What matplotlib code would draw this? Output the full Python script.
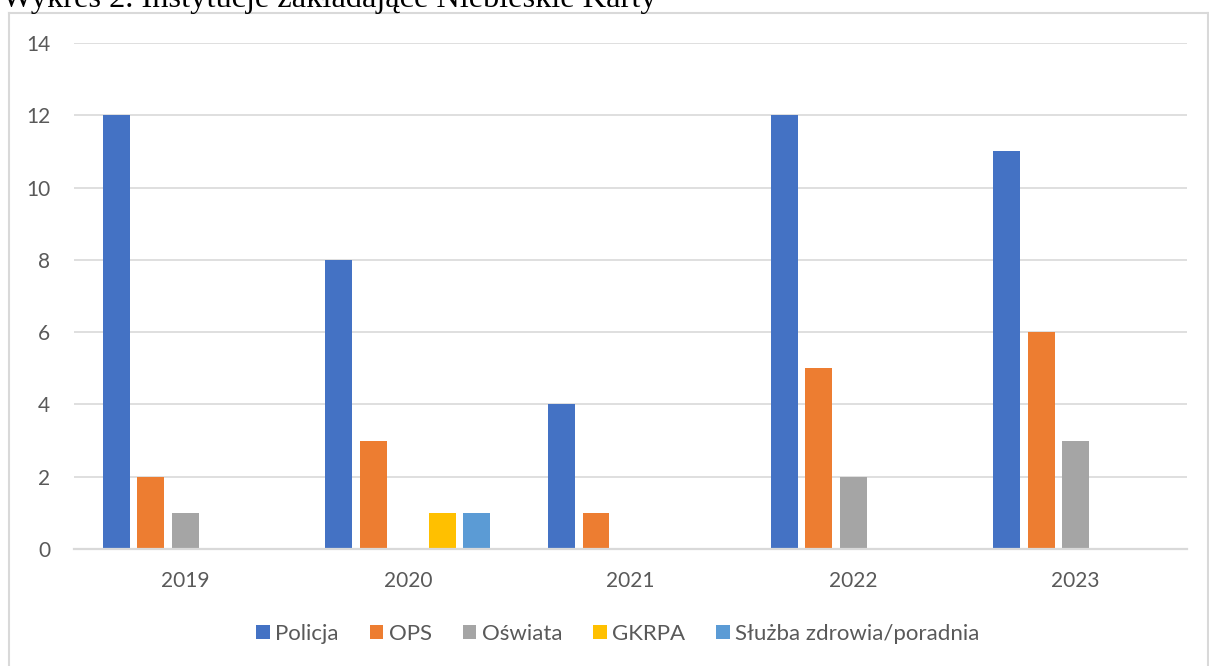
import numpy as np
import matplotlib.pyplot as plt
from matplotlib.lines import Line2D

years = ["2019", "2020", "2021", "2022", "2023"]
series = ["Policja", "OPS", "Oświata", "GKRPA", "Służba zdrowia/poradnia"]
policja = [12, 8, 4, 12, 11]
ops = [2, 3, 1, 5, 6]
oswiata = [1, 0, 0, 2, 3]
gkrpa = [0, 1, 0, 0, 0]
sluzba = [0, 1, 0, 0, 0]
colors = ["#4472c4", "#ed7d31", "#a5a5a5", "#ffc000", "#5b9bd5"]

values = [policja, ops, oswiata, gkrpa, sluzba]

W, H = 1209, 666
fig = plt.figure(figsize=(W / 100, H / 100), dpi=100)
plt.rcParams['font.family'] = ['Lato', 'DejaVu Sans']

ax = fig.add_axes([74 / W, 1 - 549 / H, (1187 - 74) / W, (549 - 43) / H])

x = np.arange(len(years))
pitch = 0.155
width = 0.121
for i, (name, vals) in enumerate(zip(series, values)):
    ax.bar(x + (i - 2) * pitch, vals, width, color=colors[i], label=name, zorder=3)

ax.set_xlim(-0.5, len(years) - 0.5)
ax.set_ylim(0, 14)
ax.set_yticks(range(0, 15, 2))
ax.set_xticks(x)
ax.set_xticklabels(years)
ax.grid(axis="y", color="#d9d9d9", linewidth=1.2, zorder=0)
for s in ["top", "right", "left"]:
    ax.spines[s].set_visible(False)
ax.spines["bottom"].set_color("#d9d9d9")
ax.spines["bottom"].set_linewidth(1.6)
ax.spines["bottom"].set_zorder(4)
ax.tick_params(length=0, labelsize=15, colors="#595959")
ax.tick_params(axis="x", pad=15.5)
ax.tick_params(axis="y", pad=17)

leg = fig.legend(loc="center", bbox_to_anchor=(618 / W, 1 - 634 / H), ncol=5,
                 frameon=False, fontsize=16, handlelength=0.6, handleheight=0.6,
                 handletextpad=0.25, columnspacing=1.4)
for t in leg.get_texts():
    t.set_color("#595959")

# chart frame
fc = "#d9d9d9"
fig.add_artist(Line2D([9 / W, 9 / W], [0, 1 - 13 / H], color=fc, lw=1.5))
fig.add_artist(Line2D([9 / W, 1208 / W], [1 - 13 / H, 1 - 13 / H], color=fc, lw=1.5))
fig.add_artist(Line2D([1208 / W, 1208 / W], [0, 1 - 13 / H], color=fc, lw=1.5))

fig.text(2 / W, 1 - 7 / H, "Wykres 2. Instytucje zakładające Niebieskie Karty",
         family=["Liberation Serif"], fontsize=23.3, va="baseline", ha="left", color="black")

fig.savefig("out.png", dpi=100)
